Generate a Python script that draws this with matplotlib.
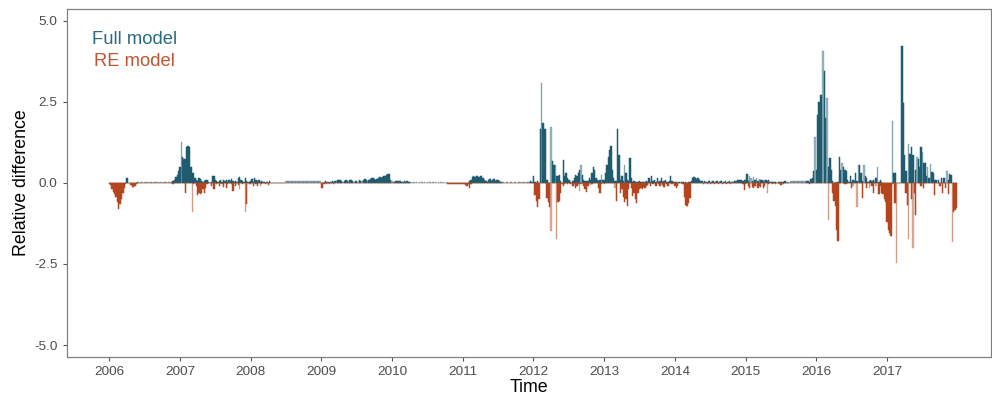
import matplotlib
matplotlib.use("Agg")
import matplotlib.pyplot as plt
import numpy as np
from matplotlib.colors import to_rgba

plt.rcParams['font.family'] = ['Liberation Sans', 'DejaVu Sans']

# ---------------- data (weekly relative differences, 52 weeks per year) ----------------
years = list(range(2006, 2018))

full_2006 = [0,0,0,0,0,0,0,0,0,0, 0,0,0,0.15,0,0,0,0,0,0, 0,0.04,0,0.04,0.04,0,0.04,0.04,0.04,0,
             0.04,0.04,0,0.04,0.04,0.04,0,0.04,0.04,0, 0.04,0.04,0.04,0,0.04,0.04,0.04,0.05,0.1,0.18, 0.25,0.35]
re_2006 = [-0.04,-0.06,-0.2,-0.28,-0.35,-0.45,-0.6,-0.8,-0.65,-0.5, -0.3,-0.15,-0.05,0,0,0,-0.08,-0.12,-0.13,-0.1,
           -0.05,0,0,0,0,0,0,0,0,0, 0,0,0,0,0,0,0,0,0,0, 0,0,0,0,0,0,0,-0.05,0,0, 0,0]
full_2007 = [0.5,1.25,0.81,0.75,0.75,1.12,1.13,1.12,0.5,0.3, 0.3,0.15,0.1,0.05,0.15,0.12,0.05,0.02,0.05,0.08,
             0.1,0.02,0,0.03,0.2,0.22,0.1,0.05,0.02,0.05, 0.08,0.03,0.1,0.05,0.08,0.03,0.1,0.05,0.12,0.05,
             0.02,0.05,0.03,0.15,0.18,0.1,0.05,0.03,0.15,0.05, 0.02,0.03]
re_2007 = [0,0,0,0,-0.3,0,0,0,0,-0.9, -0.05,0,-0.1,-0.38,-0.3,-0.35,-0.3,-0.2,-0.3,-0.15,
           -0.05,0,0,-0.1,0,-0.2,0,-0.05,0,-0.1, 0,-0.05,-0.12,0,-0.15,-0.05,0,0,-0.05,-0.25,
           0,-0.1,0,-0.08,-0.2,0,-0.05,0,-0.9,-0.65, 0,-0.03]
full_2008 = [0.05,0.12,0.02,0.15,0.1,0.05,0.1,0.03,0.06,0.02, 0.02,0,0.02,0,0.05,0.01,0,0.01,0,0.01,
             0,0.01,0,0.01,0,0.01,0.05,0.05,0.05,0.05, 0.05,0.05,0.05,0.05,0.05,0.05,0.05,0.05,0.05,0.05,
             0.05,0.05,0.05,0.05,0.05,0.05,0.05,0.05,0.05,0.05, 0.05,0.05]
re_2008 = [-0.05,0,-0.1,0,-0.05,-0.1,0,-0.1,-0.05,0, 0,-0.05,0,-0.08,0,-0.02,-0.02,-0.02,0,-0.02,
           -0.02,0,-0.02,-0.02,0,-0.02,0,0,0,0, 0,0,0,0,0,0,0,0,0,0, 0,0,0,0,0,0,0,0,0,0, 0,0]
full_2009 = [0,0,0.03,0.05,0.03,0.02,0.04,0.03,0.05,0.03, 0.06,0.05,0.08,0.1,0.08,0.05,0.03,0.06,0.08,0.05,
             0.04,0.08,0.1,0.06,0.03,0.05,0.06,0.04,0.08,0.06, 0.05,0.1,0.13,0.08,0.05,0.1,0.12,0.15,0.14,0.12,
             0.1,0.13,0.15,0.17,0.15,0.18,0.2,0.22,0.25,0.26, 0.27,0.1]
re_2009 = [-0.15,-0.17,-0.05,0,-0.03,0,-0.04,0,0,-0.03, 0,0,0,0,0,0,0,0,0,0, 0,0,0,0,0,0,0,0,0,0,
           0,0,0,0,0,0,0,0,0,0, 0,0,0,0,0,0,0,0,0,0, 0,0]
full_2010 = [0.05,0.04,0.03,0.05,0.06,0.05,0.06,0.02,0.04,0.05, 0.04,0.05,0.04,0.02,0.02,0,0.02,0,0.02,0,
             0.02,0,0.02,0,0.02,0,0.02,0,0.02,0, 0.02,0,0.02,0,0.02,0,0.02,0,0.02,0, 0.02,0,0,0,0,0,0,0,0,0, 0,0]
re_2010 = [0,0,0,0,0,0,0,0,0,0, 0,0,0,0,0,-0.02,0,-0.02,0,-0.02, 0,-0.02,0,-0.02,0,-0.02,0,-0.02,0,-0.02,
           0,-0.02,0,-0.02,0,-0.02,0,-0.02,0,-0.02, 0,-0.04,-0.03,-0.04,-0.04,-0.03,-0.04,-0.04,-0.03,-0.04, -0.04,-0.03]
full_2011 = [0,0,0,0,0,0.05,0.1,0.18,0.2,0.17, 0.2,0.22,0.18,0.21,0.2,0.15,0.1,0.05,0.03,0.1,
             0.12,0.05,0.1,0.12,0.05,0.08,0.1,0.05,0.03,0.04, 0.04,0,0.04,0.04,0,0.04,0.04,0,0.04,0.04,
             0,0.04,0.04,0,0.04,0.04,0,0.04,0.04,0.03, 0.05,0.04]
re_2011 = [-0.05,-0.05,-0.08,-0.1,-0.05,-0.15,-0.03,0,0,0, 0,0,0,0,0,0,0,0,0,0, 0,0,0,0,0,0,0,0,0,0,
           0,0,0,0,0,0,0,0,0,0, 0,0,0,0,0,0,0,0,0,0, 0,0]
full_2012 = [0.22,0.03,0,0.05,0,1.65,3.08,1.84,1.65,1.65, 0.1,0,0,1.72,0.66,0.55,0.55,0.2,0.2,0.25,
             0.05,0,0.69,0.2,0.3,0.15,0.1,0.02,0,0.05, 0.15,0.25,0.2,0.3,0.4,0.55,0.25,0.1,0.05,0.05,
             0.05,0.15,0.1,0.3,0.48,0.4,0.15,0.1,0.05,0.1, 0.25,0.1]
re_2012 = [-0.02,-0.37,-0.55,-0.73,-0.5,0,0,0,0,0, -0.47,-0.6,-0.73,-1.5,0,0,0,-1.72,-0.6,-0.55,
           -0.3,-0.05,-0.1,-0.05,0,-0.05,0,-0.03,0,-0.1, -0.05,-0.15,-0.1,-0.05,-0.25,-0.05,0,-0.1,-0.2,-0.28,
           -0.1,0,-0.08,-0.05,0,0,0,0,-0.15,-0.3, -0.05,0]
full_2013 = [0.1,0.3,0.55,0.8,1.02,1.14,0.4,0.15,0.05,0.05, 1.66,0.85,0.1,0.2,0.05,0.55,0.3,0.1,0.05,0.76,
             0.15,0.03,0.05,0.02,0.04,0.03,0.05,0.03,0.02,0.04, 0.02,0.05,0.03,0.15,0.03,0.2,0.05,0.1,0.02,0.15,
             0.03,0.05,0.15,0.03,0.05,0.1,0.03,0.02,0.05,0.2, 0.05,0.03]
re_2013 = [-0.05,0,0,0,0,0,0,0,-0.15,-0.55, 0,0,-0.3,-0.2,-0.45,-0.6,-0.5,-0.7,-0.2,0,
           -0.15,-0.4,-0.3,-0.5,-0.62,-0.3,-0.2,-0.15,-0.2,-0.12, -0.15,-0.1,-0.08,0,-0.1,0,-0.05,0,-0.1,0,
           -0.05,-0.1,0,-0.08,-0.12,0,-0.05,-0.1,0,0, -0.05,0]
full_2014 = [0.02,0.03,0,0.03,0,0.02,0.03,0,0.02,0, 0.02,0.03,0.05,0.15,0.17,0.15,0.12,0.15,0.1,0.05,
             0.05,0,0.05,0.03,0,0.05,0,0.04,0.05,0, 0.03,0.05,0,0.04,0.05,0,0.03,0.05,0,0.04,
             0.05,0,0.04,0.03,0.05,0.06,0.1,0.08,0.1,0.1, 0.05,0.1]
re_2014 = [-0.1,-0.15,-0.1,0,0,0,-0.05,-0.45,-0.68,-0.7, -0.62,-0.47,0,0,0,0,0,0,0,0,
           0,-0.05,0,0,-0.05,0,-0.04,0,0,-0.05, 0,0,-0.04,0,0,-0.05,0,0,-0.05,0,
           0,-0.04,0,0,0,0,0,0,0,0, -0.05,-0.22]
full_2015 = [0.1,0.26,0.05,0.2,0.15,0.05,0.18,0.1,0.15,0.05, 0.12,0.08,0.1,0.05,0.1,0.08,0.05,0.1,0.03,0.02,
             0.03,0.02,0.03,0,0.03,0.04,0.02,0.04,0.03,0.05, 0,0.03,0,0.05,0.05,0.05,0.05,0.05,0.05,0.05,
             0.05,0.05,0.05,0.05,0.05,0.06,0.05,0.04,0.12,0.15, 0.35,1.4]
re_2015 = [-0.05,0,-0.1,-0.15,0,-0.12,-0.15,-0.1,0,-0.15, -0.1,-0.12,0,-0.15,-0.1,0,-0.3,-0.05,0,0,
           -0.05,0,-0.03,0,0,-0.05,-0.08,0,-0.03,0, 0,0,0,0,0,0,0,0,0,0,
           0,0,0,0,0,0,0,-0.03,0,0, 0,0]
full_2016 = [0.4,2.1,2.5,2.72,2.72,4.07,3.44,2.0,2.61,0.5, 0.76,0.4,0.05,0,0.02,0,0.03,0.79,0.4,0.6,
             0.5,0.4,0.35,0.1,0.03,0.2,0.02,0.1,0.05,0.3, 0.05,0.55,0.55,0.3,0.05,0.55,0.2,0.15,0.03,0.05,
             0.1,0.05,0.1,0.03,0.15,0.5,0.03,0.1,0.02,0, 0,0]
re_2016 = [0,0,0,0,0,0,0,0,0,-1.14, 0,0,-0.3,-0.55,-0.7,-1.45,-1.8,0,0,0,
           0,-0.05,-0.03,0,0,0,-0.15,-0.1,0,0, -0.73,0,0,0,-0.47,0,0,-0.15,0,-0.15,
           0,-0.1,-0.3,0,-0.1,0,-0.35,-0.1,-0.3,-0.35, -0.5,-0.6]
full_2017 = [0,0,0,0,1.9,0.3,0.3,0,0,0, 0,4.21,2.46,0.86,0.35,0,1.2,0.9,1.1,0.85,
             0,0.4,0.8,0.75,0.5,1.1,0.95,0.6,0.6,0.2, 0.5,0.15,0.58,0.34,0.3,0.1,0.08,0,0.1,0,
             0.15,0,0.15,0,0.35,0.1,0.27,0.25,0,0, 0,0]
re_2017 = [-1.2,-1.45,-1.55,-1.65,-0.05,0,-0.62,-2.48,0,0, 0,0,0,0,-0.3,-0.68,-1.73,0,-0.5,-2.02,
           -0.3,-0.99,0,0,0,-0.1,0,-0.15,0,0, 0,0,0,0,0,-0.37,0,0,0,-0.1,
           0,-0.3,0,-0.15,0,-0.35,0,0,-1.81,-0.89, -0.85,-0.78]

# weeks drawn with low opacity
full_light = {2006: list(range(23, 47)), 2007: [1], 2008: list(range(26, 52)),
              2009: [2, 4, 6, 9, 11, 16, 20, 24, 27, 30, 34], 2010: [0, 1] + list(range(14, 41)),
              2011: list(range(29, 50)), 2012: [6, 13, 16, 35, 50], 2013: [15],
              2014: [], 2015: [3, 4, 6, 8, 10, 14] + list(range(33, 45)) + [51],
              2016: [5, 8, 19, 31, 35, 45], 2017: [4, 16, 22, 26, 30, 32, 44]}
re_light = {2006: [], 2007: [9, 44, 48], 2008: [7], 2009: [], 2010: list(range(14, 41)),
            2011: [], 2012: [13, 17, 34, 42], 2013: [8], 2014: [], 2015: [16],
            2016: [9, 27, 30, 39, 44], 2017: [7, 16, 19, 48]}

full_by_year = [full_2006, full_2007, full_2008, full_2009, full_2010, full_2011,
                full_2012, full_2013, full_2014, full_2015, full_2016, full_2017]
re_by_year = [re_2006, re_2007, re_2008, re_2009, re_2010, re_2011,
              re_2012, re_2013, re_2014, re_2015, re_2016, re_2017]

x_ticks = list(range(2006, 2018))
y_ticks = [-5.0, -2.5, 0.0, 2.5, 5.0]

# ---------------- build series ----------------
t, full, re_, full_a, re_a = [], [], [], [], []
for y, fv, rv in zip(years, full_by_year, re_by_year):
    for w in range(52):
        t.append(y + w / 52.0)
        full.append(fv[w])
        re_.append(rv[w])
        full_a.append(0.42 if w in full_light[y] else 1.0)
        re_a.append(0.42 if w in re_light[y] else 1.0)
t = np.array(t)

teal = '#1f5c70'
red = '#b4451f'

fig = plt.figure(figsize=(9.92, 4.01), dpi=100)
ax = fig.add_axes([0.0672, 0.1105, 0.9313, 0.8663])

fc = [to_rgba(teal, a) for a in full_a]
rc = [to_rgba(red, a) for a in re_a]
bw = 1 / 52.0
ax.bar(t, full, width=bw, color=fc, edgecolor=fc, linewidth=0.35)
ax.bar(t, re_, width=bw, color=rc, edgecolor=rc, linewidth=0.35)

ax.set_xlim(2005.3975, 2018.464)
ax.set_ylim(-5.36, 5.35)
ax.set_xticks(x_ticks)
ax.set_xticklabels([str(v) for v in x_ticks])
ax.set_yticks(y_ticks)
ax.set_yticklabels([f"{v:.1f}" for v in y_ticks])

for s in ax.spines.values():
    s.set_color('#808080')
    s.set_linewidth(0.9)
ax.tick_params(axis='both', length=3, width=0.8, color='#555555', labelcolor='#4d4d4d',
               labelsize=9.7)
ax.tick_params(axis='x', pad=3.5)
ax.tick_params(axis='y', pad=3.5)

ax.set_xlabel('Time', fontsize=12.8, color='black', labelpad=1)
ax.set_ylabel('Relative difference', fontsize=12.8, color='black', labelpad=3)

ax.text(0.0739, 0.9145, 'Full model', transform=ax.transAxes, color='#2a6b80',
        fontsize=13.2, ha='center', va='center')
ax.text(0.0739, 0.851, 'RE model', transform=ax.transAxes, color='#c05530',
        fontsize=13.2, ha='center', va='center')

fig.savefig('out.png', dpi=100)
